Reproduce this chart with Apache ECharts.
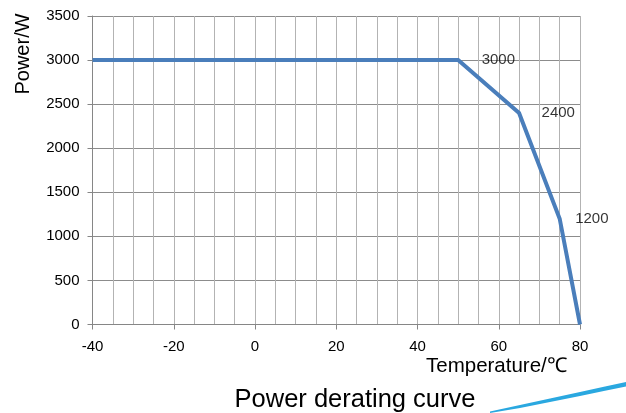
<!DOCTYPE html>
<html>
<head>
<meta charset="utf-8">
<script src="https://cdn.jsdelivr.net/npm/echarts@6/dist/echarts.min.js"></script>
<style>
  html, body { margin: 0; padding: 0; background: #fff; }
  #chart { width: 626px; height: 413px; }
</style>
</head>
<body>
<div id="chart"></div>
<script>
// Derating curve: ambient temperature (°C) vs. available output power (W)
const temperatures = [-40, 50, 65, 75, 80];
const powers = [3000, 3000, 2400, 1200, 0];

// Break points that carry a value label
const labelTemps = [50, 65, 75];
const labelPowers = [3000, 2400, 1200];

const FONT = '"Liberation Sans", Arial, sans-serif';

const chart = echarts.init(document.getElementById('chart'), null, { renderer: 'canvas' });

const curveData = temperatures.map((t, i) => [t, powers[i]]);
const labelDistances = [23, 22, 15];
const labelData = labelTemps.map((t, i) => ({
  value: [t, labelPowers[i]],
  label: { distance: labelDistances[i] }
}));

chart.setOption({
  animation: false,
  backgroundColor: '#ffffff',
  title: {
    text: 'Power derating curve',
    left: 350,
    top: 382,
    textAlign: 'center',
    textStyle: { fontFamily: FONT, fontSize: 25.5, fontWeight: 'normal', color: '#000' }
  },
  grid: { left: 92.5, right: 46, top: 16, bottom: 88.5, containLabel: false },
  xAxis: {
    type: 'value',
    min: -40,
    max: 80,
    interval: 20,
    axisLine: { show: true, onZero: false, lineStyle: { color: '#868686', width: 1 } },
    axisTick: { show: true, length: 5, lineStyle: { color: '#868686' } },
    axisLabel: { margin: 15, fontFamily: FONT, fontSize: 15, color: '#000', formatter: v => String(v) },
    splitLine: { show: true, lineStyle: { color: '#b3b3b3', width: 1 } },
    minorTick: { show: false, splitNumber: 4 },
    minorSplitLine: { show: true, lineStyle: { color: '#b3b3b3', width: 1 } }
  },
  yAxis: {
    type: 'value',
    min: 0,
    max: 3500,
    interval: 500,
    axisLine: { show: true, onZero: false, lineStyle: { color: '#868686', width: 1 } },
    axisTick: { show: true, length: 5, lineStyle: { color: '#868686' } },
    axisLabel: { margin: 13, fontFamily: FONT, fontSize: 15, color: '#000', formatter: v => String(v) },
    splitLine: { show: true, lineStyle: { color: '#8c8c8c', width: 1 } }
  },
  graphic: [
    {
      type: 'text',
      left: 426,
      top: 356,
      style: { text: 'Temperature/℃', font: '20.5px ' + FONT, fill: '#000' }
    },
    {
      type: 'text',
      x: 23,
      y: 54,
      rotation: Math.PI / 2,
      style: {
        text: 'Power/W',
        font: '20px ' + FONT,
        fill: '#000',
        align: 'center',
        verticalAlign: 'middle'
      }
    },
    {
      // decorative swoosh in the lower right corner
      type: 'polygon',
      shape: {
        points: [
          [490, 411.5], [520, 405], [550, 398.5], [580, 392], [605, 386.5], [626, 382],
          [626, 386.5], [605, 390.8], [580, 396], [550, 402], [520, 408], [490, 413]
        ]
      },
      style: { fill: '#2aa8e0' },
      z: 10
    }
  ],
  series: [
    {
      type: 'line',
      data: curveData,
      showSymbol: false,
      symbol: 'none',
      lineStyle: { color: '#4a7ebb', width: 4, join: 'miter' },
      z: 3
    },
    {
      type: 'scatter',
      data: labelData,
      symbol: 'circle',
      symbolSize: 1,
      itemStyle: { color: 'rgba(0,0,0,0)' },
      label: {
        show: true,
        position: 'right',
        formatter: p => String(p.value[1]),
        fontFamily: FONT,
        fontSize: 15,
        color: '#000'
      },
      z: 4
    }
  ]
});
</script>
</body>
</html>
